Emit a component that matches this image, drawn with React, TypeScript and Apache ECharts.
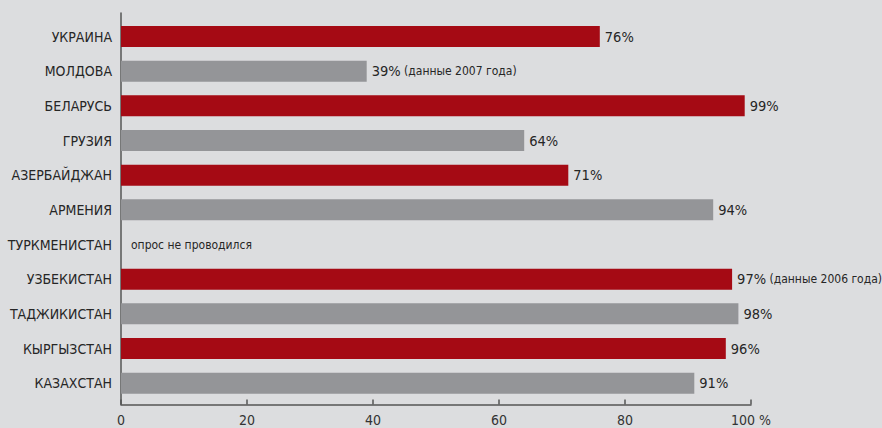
import React, { useEffect, useRef } from "react";
import * as echarts from "echarts";

const categories = [
  "УКРАИНА",
  "МОЛДОВА",
  "БЕЛАРУСЬ",
  "ГРУЗИЯ",
  "АЗЕРБАЙДЖАН",
  "АРМЕНИЯ",
  "ТУРКМЕНИСТАН",
  "УЗБЕКИСТАН",
  "ТАДЖИКИСТАН",
  "КЫРГЫЗСТАН",
  "КАЗАХСТАН",
];
const values: (number | null)[] = [76, 39, 99, 64, 71, 94, null, 97, 98, 96, 91];
const notes = ["", "(данные 2007 года)", "", "", "", "", "", "(данные 2006 года)", "", "", ""];
const noSurveyText = "опрос не проводился";
const colorKinds = ["red", "gray", "red", "gray", "red", "gray", "", "red", "gray", "red", "gray"];
const xTicks = [0, 20, 40, 60, 80, 100];

const RED = "#a50a14";
const GRAY = "#949598";
const FONT = "'DejaVu Sans Condensed', 'Liberation Sans Narrow', sans-serif";

export default function App() {
  const ref = useRef<HTMLDivElement>(null);
  useEffect(() => {
    if (!ref.current) return;
    const chart = echarts.init(ref.current, undefined, { renderer: "svg" });
    const data = categories.map((c, i) => {
      const v = values[i];
      const item: any = {
        value: v === null ? 0 : v,
        itemStyle: { color: colorKinds[i] === "red" ? RED : GRAY },
        note: notes[i],
        missing: v === null,
      };
      if (v === null) item.label = { distance: 10 };
      return item;
    });
    chart.setOption({
      animation: false,
      backgroundColor: "#dcdddf",
      grid: [
        { left: 121, width: 630, top: 19.2, height: 381.3, outerBoundsMode: "none", containLabel: false },
        { left: 121, width: 630, top: 13, height: 391.5, outerBoundsMode: "none", containLabel: false },
      ],
      xAxis: [
        { gridIndex: 0, type: "value", min: 0, max: 100, show: false },
        {
          gridIndex: 1,
          type: "value",
          min: xTicks[0],
          max: xTicks[xTicks.length - 1],
          interval: 20,
          axisLine: { show: true, lineStyle: { color: "#555", width: 1.5 } },
          axisTick: { show: true, inside: true, length: 5, lineStyle: { color: "#555", width: 1.5 } },
          splitLine: { show: false },
          axisLabel: {
            margin: 8,
            fontFamily: FONT,
            fontSize: 14,
            lineHeight: 14,
            color: "#333",
            formatter: (v: number) => (v === 100 ? "100 %" : String(v)),
          },
        },
      ],
      yAxis: [
        {
          gridIndex: 0,
          type: "category",
          data: categories,
          inverse: true,
          axisLine: { show: false },
          axisTick: { show: false },
          axisLabel: { margin: 9, fontFamily: FONT, fontSize: 14, color: "#262626" },
        },
        {
          gridIndex: 1,
          type: "value",
          axisLine: { show: true, lineStyle: { color: "#555", width: 1.5 } },
          axisTick: { show: false },
          axisLabel: { show: false },
          splitLine: { show: false },
        },
      ],
      series: [
        {
          type: "bar",
          xAxisIndex: 0,
          yAxisIndex: 0,
          barWidth: 21,
          data,
          label: {
            show: true,
            position: "right",
            distance: 5,
            formatter: (p: any) => {
              if (p.data.missing) return "{s|" + noSurveyText + "}";
              return "{v|" + p.value + "%}" + (p.data.note ? "{s| " + p.data.note + "}" : "");
            },
            rich: {
              v: { fontFamily: FONT, fontSize: 14.5, color: "#262626" },
              s: { fontFamily: FONT, fontSize: 12, color: "#262626" },
            },
          },
        },
      ],
    });
    return () => chart.dispose();
  }, []);
  return <div ref={ref} style={{ width: 882, height: 428, position: "absolute", left: 0, top: 0 }} />;
}
